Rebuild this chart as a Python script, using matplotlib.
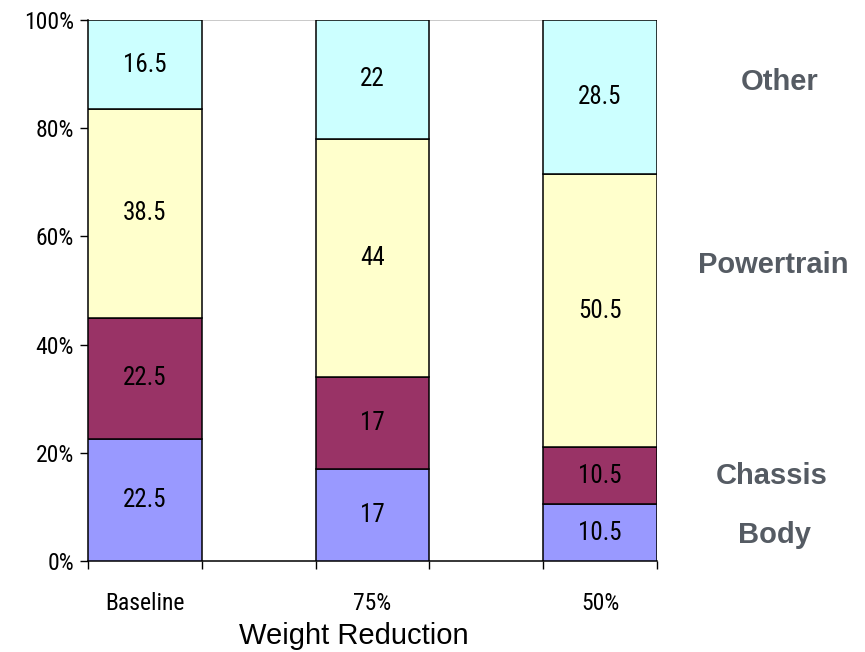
import numpy as np
import matplotlib.pyplot as plt
from matplotlib.transforms import blended_transform_factory

# share of vehicle weight by subsystem
categories = ['Baseline', '75%', '50%']
body = [22.5, 17, 10.5]
chassis = [22.5, 17, 10.5]
powertrain = [38.5, 44, 50.5]
other = [16.5, 22, 28.5]
series_names = ['Body', 'Chassis', 'Powertrain', 'Other']
series_colors = ['#9999FF', '#993366', '#FFFFCC', '#CCFFFF']
yticks = [0, 20, 40, 60, 80, 100]

narrow = ['Roboto Condensed', 'DejaVu Sans']
regular = ['Liberation Sans', 'DejaVu Sans']

fig = plt.figure(figsize=(8.65, 6.52), dpi=100)
ax = fig.add_axes([0.1017, 0.1396, 0.6578, 0.8298])

x = np.arange(len(categories))
w = 0.5
bottom = np.zeros(len(categories))
for vals, col in zip([body, chassis, powertrain, other], series_colors):
    vals = np.array(vals, dtype=float)
    ax.bar(x, vals, w, bottom=bottom, color=col, edgecolor='black', linewidth=1.1, zorder=3)
    for xi, b, v in zip(x, bottom, vals):
        ax.text(xi, b + v / 2, f'{v:g}', ha='center', va='center', fontsize=18,
                family=narrow, zorder=4)
    bottom += vals

ax.axhline(100, color='#C0C0C0', lw=1.2, zorder=1)

ax.set_xlim(-0.25, 2.25)
ax.set_ylim(0, 100)
ax.set_yticks(yticks)
ax.set_yticklabels([f'{t}%' for t in yticks], family=narrow, fontsize=17)

# ticks sit at the bar edges, labels under the bar centres
edges = sorted(list(x - w / 2) + list(x + w / 2))
ax.set_xticks(edges, minor=True)
ax.set_xticks(x)
ax.set_xticklabels(categories, family=narrow, fontsize=17)
ax.tick_params(axis='x', which='major', length=0, pad=22)
ax.tick_params(axis='x', which='minor', length=6, width=1, direction='out')
ax.tick_params(axis='y', length=6, width=1, direction='out', pad=4)

for s in ['top', 'right']:
    ax.spines[s].set_visible(False)
ax.spines['bottom'].set_linewidth(1.1)
ax.spines['left'].set_linewidth(1.1)

fig.text(354 / 865, 1 - 636 / 652, 'Weight Reduction', family=regular, fontsize=21,
         ha='center', va='center')

# subsystem names to the right of the plot
trans = blended_transform_factory(ax.transAxes, ax.transData)
label_x = [1.207, 1.202, 1.204, 1.216]
label_y = [4.8, 15.7, 54.7, 88.6]
for name, xx, yy in zip(series_names, label_x, label_y):
    ax.text(xx, yy, name, transform=trans, ha='center', va='center',
            fontsize=21, fontweight='bold', color='#555B63', family=regular)

fig.savefig('out.png', dpi=100)
